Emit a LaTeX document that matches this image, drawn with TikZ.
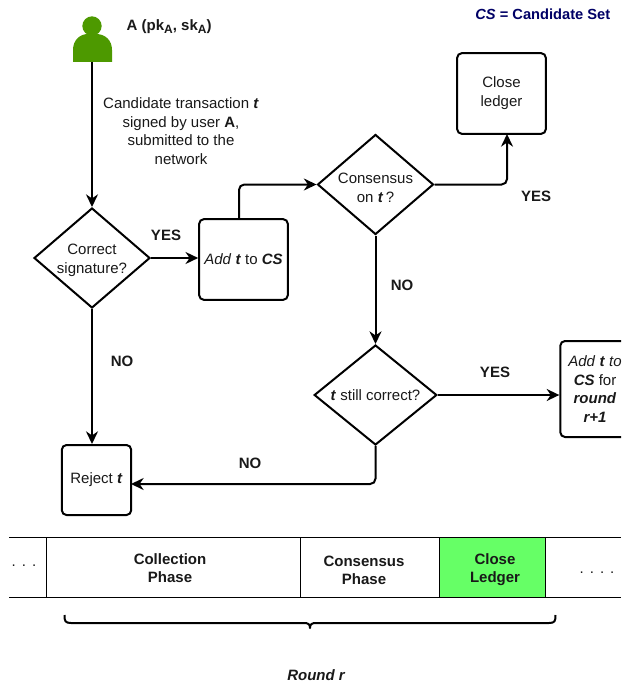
\documentclass[tikz,border=0pt]{standalone}
\usepackage{fontspec}
\setmainfont{Liberation Sans}
\usetikzlibrary{shapes.geometric,arrows.meta}
\definecolor{personG}{HTML}{4D9900}
\definecolor{closeG}{HTML}{66FF66}
\definecolor{navyT}{HTML}{000066}
\newcommand{\ti}{\textbf{\textit{t}}}
\newcommand{\subA}{\raisebox{-2pt}{\fontsize{9}{9}\selectfont A}}
\begin{document}
\begin{tikzpicture}[x=0.75pt,y=-0.75pt,
  base/.style={font=\fontsize{11.25}{14}\selectfont,align=center,text=black!90},
  dia/.style={diamond,draw=black,line width=1.5pt,inner sep=0pt,aspect=1.15,minimum width=#1,minimum height=75pt},
  dia/.default=87pt,
  rbox/.style={base,draw=black,line width=1.5pt,rounded corners=3.5pt,inner sep=0pt},
  lbl/.style={base,font=\fontsize{11.25}{14}\selectfont\bfseries},
  conn/.style={draw=black,line width=1.5pt,rounded corners=4pt,-{Stealth[length=9.5pt,width=9pt]}},
  cell/.style={draw=black,line width=0.75pt,minimum height=45pt,inner sep=0pt,font=\fontsize{11.25}{13.5}\selectfont\bfseries,align=center},
  celltext/.style={font=\fontsize{11.25}{13.5}\selectfont\bfseries,align=center,text=black!90},
]
\useasboundingbox (0,0) rectangle (621,685);
\clip (0,0) rectangle (621,685);
\fill[white] (0,0) rectangle (621,685);
% user
\fill[personG] (73,62) -- (73,50) .. controls (73,40) and (80,34) .. (88,34) -- (96,34) .. controls (105,34) and (112,40) .. (112,50) -- (112,62) -- cycle;
\node[circle,fill=personG,minimum size=14.5pt,inner sep=0pt] (head) at (92,26) {};
\coordinate (userbase) at (92,62);
\node[lbl,anchor=west] (userlabel) at (122,27) {A (pk\subA, sk\subA)};
\node[lbl,anchor=east,text=navyT,font=\fontsize{11}{13}\selectfont\bfseries] (legend) at (615,14) {\textit{CS} = Candidate Set};
\node[base] (sublabel) at (181,131) {Candidate transaction \ti\\signed by user \textbf{A},\\submitted to the\\network};
% decisions
\node[dia=87pt,label={[base,yshift=-1.5pt]center:Correct\\signature?}] (d1) at (92,258) {};
\node[dia=87pt,label={[base,yshift=-2.5pt]center:Consensus\\on \ti\,?}] (d2) at (375.5,184.5) {};
\node[dia=92pt,label={[base]center:\ti\ still correct?}] (d3) at (375.5,395) {};
% boxes
\node[rbox,minimum width=66.5pt,minimum height=60.5pt] (addt) at (243.5,259.5) {\textit{Add} \ti\ to \textbf{\textit{CS}}};
\node[rbox,minimum width=66.5pt,minimum height=60.5pt] (close) at (501.5,93.5) {\raisebox{-3pt}{\begin{tabular}{@{}c@{}}Close\\ledger\end{tabular}}};
\node[rbox,minimum width=52pt,minimum height=52.5pt] (reject) at (96.5,480) {\raisebox{1pt}{Reject \ti}};
\node[rbox,minimum width=52pt,minimum height=72pt] (next) at (595,389) {\textit{Add} \ti\ \textit{to}\\\textbf{\textit{CS}} for\\\textbf{\textit{round}}\\\textbf{\textit{r+1}}};
\coordinate (addout) at (239,219);
\coordinate (closein) at (507,134);
\coordinate (rejin) at (131,484);
% connectors
\draw[conn] (userbase) -- (d1.north);
\draw[conn] (d1.east) -- (d1.east -| addt.west);
\draw[conn] (d1.south) -- (reject.north -| d1.south);
\draw[conn] (addout) |- (d2.west);
\draw[conn] (d2.east) -| (closein);
\draw[conn] (d2.south) -- (d3.north);
\draw[conn] (d3.east) -- (d3.east -| next.west);
\draw[conn] (d3.south) |- (rejin);
% labels
\node[lbl] (y1) at (166,235) {YES};
\node[lbl] (n1) at (122,361) {NO};
\node[lbl] (n2) at (402,285) {NO};
\node[lbl] (y2) at (536,196) {YES};
\node[lbl] (y3) at (495,372) {YES};
\node[lbl] (n3) at (250,463) {NO};
% phases
\node[cell,minimum width=190.5pt] (collect) at (173,567) {};
\node[cell,minimum width=104.25pt] (cons) at (369.5,567) {};
\node[cell,fill=closeG,minimum width=79.5pt] (cl) at (492,567) {};
\node[celltext] (collecttext) at (170,568) {Collection\\Phase};
\node[celltext] (constext) at (364,570) {Consensus\\Phase};
\node[celltext] (cltext) at (495,570) {Close\\Ledger};
\draw[line width=0.75pt] (9,537) -- (621,537) (9,597) -- (621,597);
\node[base] (dl) at (24,566) {.\hspace{4.5pt}.\hspace{4.5pt}.};
\node[base] (dr) at (597,573) {.\hspace{4.5pt}.\hspace{4.5pt}.\hspace{4.5pt}.};
% brace
\draw[line width=1.5pt,line join=round] (64.5,615) .. controls (64.5,621) and (65,623) .. (71,623) -- (304,623) .. controls (308,623) and (310,624) .. (310,628) .. controls (310,624) and (312,623) .. (316,623) -- (549,623) .. controls (555,623) and (555.5,621) .. (555.5,615);
\node[lbl,font=\fontsize{11.25}{13}\selectfont\bfseries\itshape] (round) at (316,675) {Round r};
\end{tikzpicture}
\end{document}
